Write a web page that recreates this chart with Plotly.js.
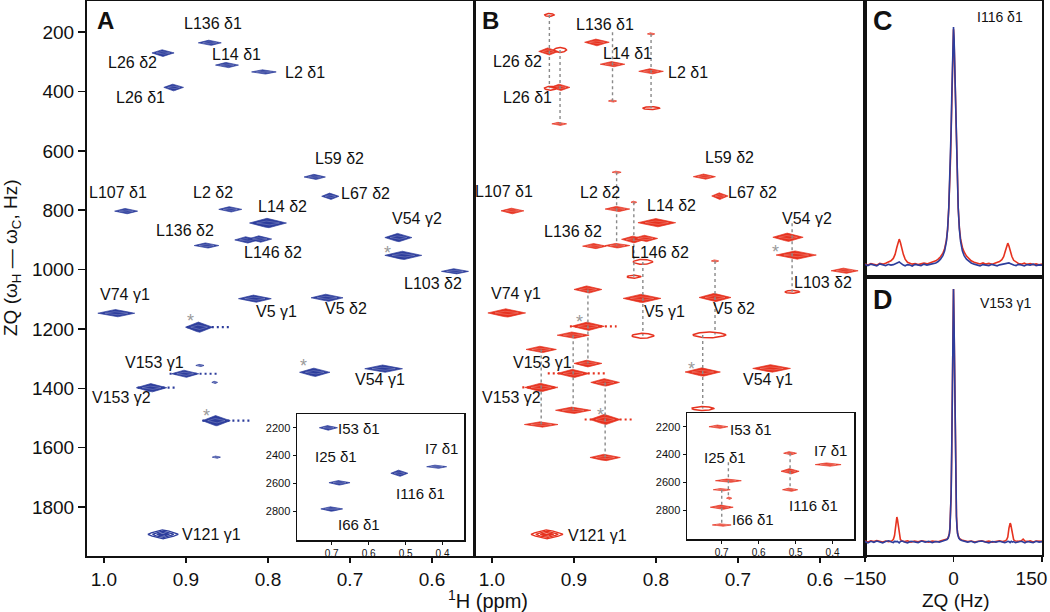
<!DOCTYPE html>
<html><head><meta charset="utf-8">
<script src="https://cdn.plot.ly/plotly-3.0.1.min.js"></script>
<style>html,body{margin:0;padding:0;background:#fff}#chart{width:1050px;height:612px}</style>
</head><body><div id="chart"></div>
<script>
// ===================== DATA =====================
// Panel A (blue): peak name, 1H shift (ppm), ZQ frequency (Hz), extent along 1H (ppm) and ZQ (Hz), intensity (-1 = folded / ring contours)
const A_names = ['L136 δ1','L26 δ2','L14 δ1','L2 δ1','L26 δ1','L59 δ2','L67 δ2','L107 δ1','L2 δ2','L14 δ2','','L146 δ2','L136 δ2','V54 γ2','*','L103 δ2','V74 γ1','V5 γ1','V5 δ2','*','V153 γ1','','','V153 γ2','*','V54 γ1','*','','V121 γ1'];
const A_ppm = [0.871,0.928,0.850,0.805,0.915,0.743,0.724,0.973,0.846,0.800,0.826,0.810,0.875,0.641,0.635,0.572,0.985,0.816,0.728,0.884,0.901,0.883,0.865,0.942,0.743,0.659,0.863,0.863,0.928];
const A_hz  = [236,270,311,334,386,688,753,803,797,843,900,897,919,892,952,1006,1147,1098,1095,1194,1351,1323,1380,1398,1346,1334,1509,1632,1892];
const A_lw_ppm = [0.028,0.027,0.028,0.030,0.024,0.026,0.021,0.028,0.028,0.045,0.029,0.029,0.030,0.033,0.045,0.033,0.045,0.040,0.039,0.033,0.033,0.010,0.007,0.037,0.037,0.046,0.034,0.010,0.037];
const A_lw_hz  = [20,24,20,17,24,20,24,20,20,34,24,24,20,30,30,20,27,27,27,37,27,10,10,30,30,27,37,10,30];
const A_int    = [1,1,1,1,1,1,1,1,1,1,1,1,1,1,1,1,1,1,1,1,1,1,1,1,1,1,1,1,-1];
// t1-noise streaks (ZQ Hz, from ppm, to ppm)
const A_streak_hz = [1194,1351,1398,1509];
const A_streak_from = [0.899,0.920,0.959,0.880];
const A_streak_to   = [0.846,0.862,0.913,0.820];

// Panel A inset (isoleucines)
const AI_names = ['I53 δ1','I25 δ1','I66 δ1','I116 δ1','I7 δ1'];
const AI_ppm = [0.709,0.679,0.700,0.517,0.416];
const AI_hz  = [2200,2596,2785,2528,2481];
const AI_lw_ppm = [0.049,0.057,0.059,0.046,0.054];
const AI_lw_hz  = [36,36,36,50,29];
const AI_int = [1,1,1,1,1];

// Panel B (red): main peaks and 13C-coupling satellites
const B_names = ['L136 δ1','L26 δ2','L26 δ1','L14 δ1','L2 δ1','L59 δ2','L67 δ2','L107 δ1','L2 δ2','L14 δ2','','L146 δ2','L136 δ2','V54 γ2','*','L103 δ2','V74 γ1','V5 γ1','V5 δ2','*','V153 γ1','V153 γ2','*','V54 γ1','*','V121 γ1',
  '','','','','','','','','','','','','','','','','','','','','','','','',''];
const B_ppm = [0.872,0.931,0.917,0.853,0.806,0.741,0.722,0.975,0.847,0.799,0.827,0.813,0.875,0.639,0.629,0.570,0.982,0.817,0.728,0.883,0.901,0.940,0.743,0.659,0.862,0.933,
  0.930,0.929,0.917,0.918,0.853,0.806,0.806,0.848,0.847,0.827,0.827,0.816,0.816,0.728,0.735,0.743,0.634,0.883,0.883,0.901,0.901,0.940,0.940,0.862,0.862];
const B_hz = [234,265,386,308,332,687,752,802,796,842,898,895,921,891,951,1004,1146,1097,1094,1191,1350,1397,1345,1333,1505,1892,
  142,389,260,509,432,206,456,672,919,773,1024,974,1223,971,1220,1468,1075,1067,1316,1221,1474,1269,1522,1380,1633];
const B_lw_ppm = [0.030,0.024,0.024,0.030,0.030,0.027,0.020,0.028,0.030,0.046,0.030,0.030,0.029,0.037,0.049,0.033,0.046,0.046,0.039,0.040,0.039,0.040,0.043,0.046,0.037,0.039,
  0.012,0.015,0.016,0.018,0.010,0.009,0.021,0.011,0.030,0.007,0.017,0.024,0.027,0.009,0.040,0.027,0.018,0.034,0.034,0.039,0.043,0.037,0.041,0.035,0.037];
const B_lw_hz = [24,27,24,20,20,20,24,20,20,30,24,24,20,30,30,20,30,30,30,30,30,30,30,27,37,30,
  10,13,17,13,10,10,10,10,17,10,10,17,17,10,20,13,10,27,24,24,24,24,20,27,24];
const B_int = [1,1,1,1,1,1,1,1,1,1,1,1,1,1,1,1,1,1,1,1,1,1,1,1,1,-1,
  0.3,0.3,0.3,1,1,1,0.3,1,1,1,0.3,0.3,0.3,1,0.3,0.3,0.3,1,1,1,1,1,1,1,1];
const B_streak_hz = [1191,1350,1397,1505];
const B_streak_from = [0.905,0.932,0.963,0.887];
const B_streak_to   = [0.848,0.860,0.920,0.826];
// dashed connectors between a peak and its satellites
const B_link_ppm  = [0.930,0.917,0.853,0.806,0.848,0.827,0.816,0.728,0.743,0.634,0.883,0.901,0.940,0.862];
const B_link_from = [142,260,200,206,672,773,974,971,1220,844,1067,1221,1269,1380];
const B_link_to   = [389,509,432,456,919,1024,1223,1219,1468,1075,1316,1474,1522,1633];

// Panel B inset
const BI_names = ['I53 δ1','I25 δ1','','','I66 δ1','','','I116 δ1','','I7 δ1'];
const BI_ppm = [0.709,0.682,0.680,0.700,0.700,0.700,0.515,0.515,0.515,0.412];
const BI_hz  = [2200,2589,2715,2654,2780,2908,2391,2521,2654,2473];
const BI_lw_ppm = [0.051,0.070,0.014,0.046,0.062,0.051,0.035,0.049,0.041,0.070];
const BI_lw_hz  = [29,29,22,22,36,22,29,43,29,29];
const BI_int = [1,1,1,1,1,1,1,1,1,1];
const BI_link_ppm = [0.682,0.700,0.515];
const BI_link_from = [2456,2654,2391];
const BI_link_to   = [2715,2908,2654];

// Panel C: 1D ZQ slice, I116 δ1 (relative intensity)
const C_zq = [-150,-145,-140,-135,-130,-125,-120,-115,-110,-106,
  -102,-99,-96,-94,-92,-90,-88,-85,-82,-78,
  -74,-70,-65,-60,-55,-50,-45,-40,-35,-30,
  -26,-22,-18,-15,-12,-10,-8,-6,-5,-4,
  -3,-2,-1,0,1,2,3,4,5,6,
  8,10,12,15,18,22,26,30,35,40,
  45,50,55,60,65,70,74,78,82,85,
  88,90,92,94,96,99,102,106,110,115,
  120,125,130,135,140,145,150];
const C_blue = [0.3,-0.2,0.4,0.0,-0.3,0.5,0.1,-0.2,0.3,0.0,
  0.2,0.5,0.8,1.1,1.3,0.9,0.4,0.0,-0.3,0.2,
  0.0,-0.4,0.3,0.1,-0.2,0.4,0.0,0.3,0.5,0.9,
  1.5,2.5,4.0,6.0,10,15,24,37,46,57,
  70,84,95,100,95,84,70,57,46,37,
  24,15,10,6.0,4.0,2.5,1.5,0.9,0.4,0.1,
  -0.3,0.2,0.0,-0.2,0.3,0.0,-0.3,0.1,0.3,0.4,
  0.6,0.8,1.0,0.9,0.7,0.3,0.0,-0.2,0.3,0.0,
  -0.3,0.2,0.0,0.4,-0.2,0.1,0.0];
const C_red = [0.5,0.0,0.6,0.2,0.0,0.7,0.4,0.8,1.2,1.8,
  2.8,4.5,7.5,9.5,10.9,9.5,7.2,4.5,2.5,1.2,
  0.8,0.4,0.6,0.2,0.5,0.8,0.5,0.9,1.2,1.8,
  2.5,3.5,5.0,7.0,10.5,15,24,36,45,56,
  69,83,94,99,94,83,69,56,45,36,
  24,15.5,11,7.5,5.5,3.8,2.6,1.8,1.2,0.8,
  0.5,0.9,0.4,0.7,0.3,0.8,1.0,1.5,2.3,3.5,
  6.0,8.0,9.2,8.0,6.0,3.6,2.0,1.2,0.7,0.4,
  0.8,0.3,0.6,0.2,0.5,0.1,0.4];

// Panel D: 1D ZQ slice, V153 γ1
const D_zq = [-150,-145,-140,-135,-130,-125,-120,-115,-110,-105,
  -102,-100,-98,-97,-96,-95,-94,-92,-90,-87,
  -83,-78,-72,-66,-60,-54,-48,-42,-36,-30,
  -24,-18,-14,-11,-9,-7,-6,-5,-4,-3,
  -2,-1,0,1,2,3,4,5,6,7,
  9,11,14,18,24,30,36,42,48,54,
  60,66,72,78,83,87,90,92,94,95,
  96,97,98,100,102,105,110,115,118,121,
  125,130,135,140,145,150];
const D_blue = [0.2,-0.3,0.3,-0.1,0.4,0.0,-0.3,0.2,0.5,0.0,
  -0.2,0.3,0.1,0.0,0.2,0.3,0.0,-0.3,0.2,0.4,
  0.0,-0.3,0.3,0.1,-0.2,0.4,0.0,0.3,-0.2,0.2,
  0.0,0.4,0.6,1.0,1.6,3.2,5.5,10,19,36,
  60,85,100,85,60,36,19,10,5.5,3.2,
  1.6,1.0,0.6,0.4,0.0,0.3,-0.2,0.2,0.4,0.0,
  -0.3,0.2,0.0,0.3,0.1,-0.2,0.0,0.3,0.2,0.0,
  -0.2,0.1,0.3,0.0,0.2,-0.2,0.1,0.3,0.0,-0.3,
  0.2,0.0,-0.2,0.3,0.0,0.2];
const D_red = [0.4,0.0,0.5,0.2,0.6,0.3,0.0,0.4,0.2,0.4,
  1.0,2.5,7.0,9.0,9.9,9.0,7.0,2.5,1.0,0.4,
  0.2,0.5,0.0,0.4,0.1,0.5,0.2,0.0,0.4,0.2,
  0.3,0.6,0.8,1.2,1.8,3.4,5.8,10.5,19,36,
  60,85,100,85,60,36,19,10.5,5.8,3.4,
  1.8,1.2,0.8,0.5,0.2,0.4,0.0,0.3,0.5,0.1,
  0.4,0.0,0.3,0.5,0.2,0.4,0.9,2.0,5.5,7.0,
  7.5,7.0,5.5,2.0,0.9,0.4,0.3,0.5,1.2,0.4,
  0.2,0.5,0.0,0.4,0.2,0.3];

// Tick labels
const H_ticks = [1.0,0.9,0.8,0.7,0.6];
const H_ticktext = ['1.0','0.9','0.8','0.7','0.6'];
const ZQ_ticks = [200,400,600,800,1000,1200,1400,1600,1800];
const IN_xticks = [0.7,0.6,0.5,0.4];
const IN_xticktext = ['0.7','0.6','0.5','0.4'];
const IN_yticks = [2200,2400,2600,2800];
const SL_ticks = [-150,0,150];
const SL_ticktext = ['−150','0','150'];

// ===================== STYLE / LAYOUT =====================
const FONT = 'Liberation Sans, Arial, Helvetica, sans-serif';
const BLUE = '#2d3d9c', RED = '#e6321f', GREY = '#8a8a8a', INK = '#111';
const W = 1050, H = 612;
const px = v => v / W, py = v => 1 - v / H;

// label offsets (pixels, right / down) relative to the peak
const SHIFT = {'L136 δ1':[3,-19],'L26 δ2':[-31,10],'L14 δ1':[10,-11],'L2 δ1':[41,1],'L26 δ1':[-33,10],'L59 δ2':[25,-19],
  'L107 δ1':[-8,-19],'L2 δ2':[-17,-17],'L67 δ2':[35,-3],'L14 δ2':[15,-17],'V54 γ2':[19,-19],'L136 δ2':[-21,-15],
  'L146 δ2':[13,13],'L103 δ2':[-22,12],'V74 γ1':[9,-19],'V5 γ1':[22,13],'V5 δ2':[19,11],'V153 γ1':[-31,-11],
  'V153 γ2':[-30,10],'V54 γ1':[-4,11],'V121 γ1':[48,0]};
const SHIFT_B = Object.assign({}, SHIFT, {'L2 δ1':[37,1],'L136 δ1':[8,-18],'L14 δ1':[15,-11],'V121 γ1':[51,1],'L67 δ2':[33,-3],'L146 δ2':[15,14]});
const SHIFT_AI = {'I53 δ1':[31,1],'I25 δ1':[-3,-26],'I7 δ1':[5,-18],'I116 δ1':[21,20],'I66 δ1':[27,16]};
const SHIFT_BI = {'I53 δ1':[33,3],'I25 δ1':[-3,-23],'I7 δ1':[2,-14],'I116 δ1':[23,34],'I66 δ1':[31,12]};
const STAR_A = [[-16,-7],[-9,-11],[-11,-11],[-10,-10]];
const STAR_B = [[-21,-8],[-8,-9],[-11,-8],[-5,-9]];

const traces = [];
const annotations = [];
const CENTER = {xanchor:'center', yanchor:'middle'};

function contour(cx, cy, w, h, p, n) {
  const x = [], y = [];
  for (let i = 0; i <= n; i++) {
    const t = 2 * Math.PI * i / n, c = Math.cos(t), s = Math.sin(t);
    x.push(cx + (w / 2) * Math.sign(c) * Math.pow(Math.abs(c), p));
    y.push(cy + (h / 2) * Math.sign(s) * Math.pow(Math.abs(s), p));
  }
  return {x, y};
}
function addPeak(cx, cy, w, h, inten, color, xa, ya) {
  const base = {type:'scatter', mode:'lines', xaxis:xa, yaxis:ya, hoverinfo:'skip', showlegend:false};
  if (inten < 0) {
    [1, 0.7, 0.42].forEach(f => {
      const s = contour(cx, cy, w * f, h * f, 1.7, 72);
      traces.push(Object.assign({}, base, {x:s.x, y:s.y, line:{color, width:1.3}}));
    });
    traces.push(Object.assign({}, base, {x:[cx - w * 0.18, cx + w * 0.18], y:[cy, cy], line:{color, width:1.3}}));
  } else if (inten < 0.5) {
    const s = contour(cx, cy, w, h, 1.25, 64);
    traces.push(Object.assign({}, base, {x:s.x, y:s.y, line:{color, width:1.5}}));
  } else {
    const s = contour(cx, cy, w, h, 2.1, 96);
    traces.push(Object.assign({}, base, {x:s.x, y:s.y, fill:'toself', fillcolor:color, line:{color, width:0.7}}));
    const s2 = contour(cx, cy, w * 0.62, h * 0.45, 2.0, 64);
    traces.push(Object.assign({}, base, {x:s2.x, y:s2.y, line:{color:'rgba(255,255,255,0.35)', width:0.6}}));
  }
}
function addPanel(names, ppm, hz, lwp, lwh, inten, color, xa, ya, shift, stars) {
  let k = 0;
  for (let i = 0; i < ppm.length; i++) {
    addPeak(ppm[i], hz[i], lwp[i], lwh[i], inten[i], color, xa, ya);
    const nm = names[i];
    if (nm === '*') {
      const d = stars[k++];
      annotations.push(Object.assign({xref:xa, yref:ya, x:ppm[i], y:hz[i], text:'*', showarrow:false,
        xshift:d[0], yshift:-(d[1] + 5), font:{size:18, color:'#9a9a9a', family:FONT}}, CENTER));
    } else if (nm) {
      const d = shift[nm];
      annotations.push(Object.assign({xref:xa, yref:ya, x:ppm[i], y:hz[i], text:nm, showarrow:false,
        xshift:d[0], yshift:-d[1], font:{size:xa === 'x5' || xa === 'x6' ? 15 : 16, color:INK, family:FONT}}, CENTER));
    }
  }
}
function addStreaks(hzs, from, to, color, xa, ya) {
  const x = [], y = [];
  hzs.forEach((h, i) => { x.push(from[i], to[i], null); y.push(h, h, null); });
  traces.push({type:'scatter', mode:'lines', x, y, xaxis:xa, yaxis:ya, hoverinfo:'skip',
    line:{color, width:2.2, dash:'2px,3px'}});
}
function addLinks(pp, from, to, xa, ya) {
  const x = [], y = [];
  pp.forEach((p, i) => { x.push(p, p, null); y.push(from[i], to[i], null); });
  traces.push({type:'scatter', mode:'lines', x, y, xaxis:xa, yaxis:ya, hoverinfo:'skip',
    line:{color:GREY, width:1.4, dash:'3px,3px'}});
}

addStreaks(A_streak_hz, A_streak_from, A_streak_to, BLUE, 'x', 'y');
addPanel(A_names, A_ppm, A_hz, A_lw_ppm, A_lw_hz, A_int, BLUE, 'x', 'y', SHIFT, STAR_A);
addStreaks(B_streak_hz, B_streak_from, B_streak_to, RED, 'x2', 'y2');
addPanel(B_names, B_ppm, B_hz, B_lw_ppm, B_lw_hz, B_int, RED, 'x2', 'y2', SHIFT_B, STAR_B);
addLinks(B_link_ppm, B_link_from, B_link_to, 'x2', 'y2');
addPanel(AI_names, AI_ppm, AI_hz, AI_lw_ppm, AI_lw_hz, AI_int, BLUE, 'x5', 'y5', SHIFT_AI, []);
addPanel(BI_names, BI_ppm, BI_hz, BI_lw_ppm, BI_lw_hz, BI_int, RED, 'x6', 'y6', SHIFT_BI, []);
addLinks(BI_link_ppm, BI_link_from, BI_link_to, 'x6', 'y6');

traces.push({type:'scatter', mode:'lines', x:C_zq, y:C_red, xaxis:'x3', yaxis:'y3', line:{color:RED, width:1.6}, hoverinfo:'skip'});
traces.push({type:'scatter', mode:'lines', x:C_zq, y:C_blue, xaxis:'x3', yaxis:'y3', line:{color:BLUE, width:1.6}, hoverinfo:'skip'});
traces.push({type:'scatter', mode:'lines', x:D_zq, y:D_red, xaxis:'x4', yaxis:'y4', line:{color:RED, width:1.6}, hoverinfo:'skip'});
traces.push({type:'scatter', mode:'lines', x:D_zq, y:D_blue, xaxis:'x4', yaxis:'y4', line:{color:BLUE, width:1.6}, hoverinfo:'skip'});

// panel letters & titles
const note = (t, x, y, s, extra) => Object.assign({xref:'paper', yref:'paper', x:px(x), y:py(y), text:t, showarrow:false,
  font:{size:s, color:INK, family:FONT}}, CENTER, extra || {});
annotations.push(note('<b>A</b>', 105, 21, 24), note('<b>B</b>', 490, 21, 24), note('<b>C</b>', 883, 21, 27), note('<b>D</b>', 883, 300, 27));
annotations.push(note('I116 δ1', 1000, 17, 14), note('V153 γ1', 1006, 303, 14));
annotations.push(note('ZQ (ω<sub>H</sub> — ω<sub>C</sub>, Hz)', 12, 258, 19, {textangle:-90}));
annotations.push(note('<sup>1</sup>H (ppm)', 488, 599, 20));
annotations.push(note('ZQ (Hz)', 956, 600, 19));

// last ZQ tick label is pulled inside the page edge by trailing invisible digits
const slTickText = SL_ticktext.map((t, i) => i === SL_ticktext.length - 1 ? t + '<span style="color:rgba(0,0,0,0)">00</span>' : t);

const frame = {showline:true, linewidth:2, linecolor:INK, mirror:true, showgrid:false, zeroline:false};
const yDom = [py(556), py(1)];
const layout = {
  width:W, height:H, margin:{l:0, r:0, t:0, b:0}, paper_bgcolor:'#fff', plot_bgcolor:'#fff', showlegend:false,
  font:{family:FONT, color:INK},
  xaxis: Object.assign({}, frame, {domain:[px(87), px(474)], range:[1.0207, 0.5488], anchor:'y', tickvals:H_ticks, ticktext:H_ticktext,
    ticks:'outside', ticklen:5, tickwidth:1.5, tickcolor:INK, tickfont:{size:19}}),
  yaxis: Object.assign({}, frame, {domain:yDom, range:[1965, 95], anchor:'x', tickvals:ZQ_ticks, ticktext:ZQ_ticks.map(String),
    ticks:'outside', ticklen:7, tickwidth:1.5, tickcolor:INK, tickfont:{size:19}}),
  xaxis2: Object.assign({}, frame, {domain:[px(475), px(865)], range:[1.0207, 0.5451], anchor:'y2', tickvals:H_ticks, ticktext:H_ticktext,
    ticks:'outside', ticklen:5, tickwidth:1.5, tickcolor:INK, tickfont:{size:19}}),
  yaxis2: Object.assign({}, frame, {domain:yDom, range:[1965, 95], anchor:'x2', showticklabels:false, ticks:''}),
  xaxis3: Object.assign({}, frame, {domain:[px(865), px(1042)], range:[-150, 150], anchor:'y3', showticklabels:false, ticks:''}),
  yaxis3: Object.assign({}, frame, {domain:[py(277), py(1)], range:[-5, 110.9], anchor:'x3', showticklabels:false, ticks:''}),
  xaxis4: Object.assign({}, frame, {domain:[px(865), px(1042)], range:[-150, 150], anchor:'y4', tickvals:SL_ticks,
    ticktext:slTickText, ticklabeloverflow:'allow',
    ticks:'outside', ticklen:5, tickwidth:1.5, tickcolor:INK, tickfont:{size:19}}),
  yaxis4: Object.assign({}, frame, {domain:[py(555), py(277)], range:[-5.1, 104.7], anchor:'x4', showticklabels:false, ticks:''}),
  xaxis5: Object.assign({}, frame, {linewidth:1.5, domain:[px(297), px(464)], range:[0.794, 0.342], anchor:'y5', tickvals:IN_xticks, ticktext:IN_xticktext,
    ticks:'outside', ticklen:3, tickwidth:1, tickcolor:INK, tickfont:{size:10}}),
  yaxis5: Object.assign({}, frame, {linewidth:1.5, domain:[py(540), py(414)], range:[3009, 2101], anchor:'x5', tickvals:IN_yticks, ticktext:IN_yticks.map(String),
    ticks:'outside', ticklen:3, tickwidth:1, tickcolor:INK, tickfont:{size:11}}),
  xaxis6: Object.assign({}, frame, {linewidth:1.5, domain:[px(687), px(854)], range:[0.794, 0.342], anchor:'y6', tickvals:IN_xticks, ticktext:IN_xticktext,
    ticks:'outside', ticklen:3, tickwidth:1, tickcolor:INK, tickfont:{size:10}}),
  yaxis6: Object.assign({}, frame, {linewidth:1.5, domain:[py(539), py(413)], range:[3009, 2101], anchor:'x6', tickvals:IN_yticks, ticktext:IN_yticks.map(String),
    ticks:'outside', ticklen:3, tickwidth:1, tickcolor:INK, tickfont:{size:11}}),
  annotations
};
Plotly.newPlot('chart', traces, layout, {staticPlot:true, displayModeBar:false});
</script></body></html>
